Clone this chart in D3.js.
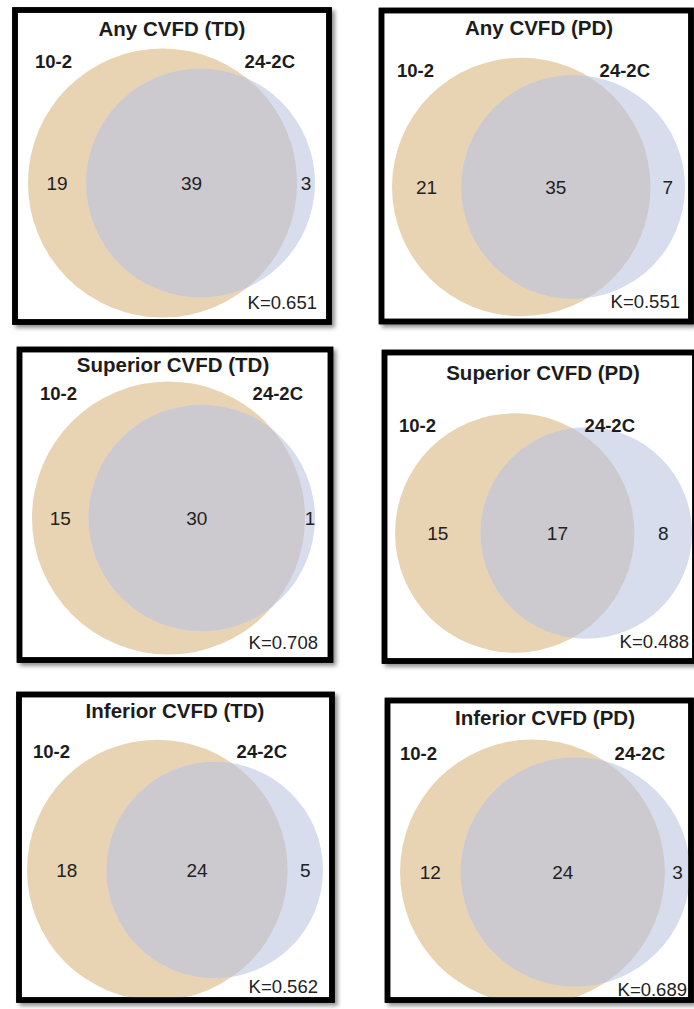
<!DOCTYPE html>
<html>
<head>
<meta charset="utf-8">
<script src="https://cdn.jsdelivr.net/npm/d3@7"></script>
<style>
  body { margin: 0; background: #fff; }
  text { font-family: "Liberation Sans", Arial, Helvetica, sans-serif; }
</style>
</head>
<body>
<div id="chart"></div>
<script>
'use strict';

// data, one entry per panel
const panelTitles = ["Any CVFD (TD)", "Any CVFD (PD)", "Superior CVFD (TD)",
                     "Superior CVFD (PD)", "Inferior CVFD (TD)", "Inferior CVFD (PD)"];
const setNames = ["10-2", "24-2C"];
const only102 = [19, 21, 15, 15, 18, 12];
const both = [39, 35, 30, 17, 24, 24];
const only242C = [3, 7, 1, 8, 5, 3];
const kappa = ["0.651", "0.551", "0.708", "0.488", "0.562", "0.689"];

const colors = {
  'Tan': '#e8d4b3',
  'Blue': '#d7ddec',
  'Overlap': '#ccc9cf',
  'Text': '#1c1c1c'
};

// where each panel sits on the page
const layout = [
  {box: [15, 10, 329, 322],       venn: [28, 315, 183],  title: [172, 36],  lab1: [35, 68],   lab2: [295, 68],  k: [317, 309]},
  {box: [381.5, 10.5, 691, 321.5], venn: [392, 685, 187], title: [539, 35],  lab1: [397, 77],  lab2: [650, 77],  k: [680, 308]},
  {box: [19.5, 349.5, 330.5, 660], venn: [32, 315, 518],  title: [173, 372], lab1: [40, 400],  lab2: [303, 400], k: [318, 649]},
  {box: [384.5, 352.5, 695, 661], venn: [395, 692, 533], title: [543, 380], lab1: [399, 432], lab2: [635, 432], k: [689, 648]},
  {box: [19, 694.5, 332, 1000],   venn: [27, 323, 870],  title: [175, 718], lab1: [33, 758],  lab2: [287, 758], k: [318, 993]},
  {box: [387.5, 700.5, 691, 1000], venn: [400, 690, 872], title: [545, 725], lab1: [400, 760], lab2: [665, 760], k: [687, 996]}
];

function lens(ra, rb, d) {
  if (d >= ra + rb) return 0;
  if (d <= Math.abs(ra - rb)) return Math.PI * Math.min(ra, rb) ** 2;
  const a = ra * ra * Math.acos((d * d + ra * ra - rb * rb) / (2 * d * ra));
  const b = rb * rb * Math.acos((d * d + rb * rb - ra * ra) / (2 * d * rb));
  const c = 0.5 * Math.sqrt((-d + ra + rb) * (d + ra - rb) * (d - ra + rb) * (d + ra + rb));
  return a + b - c;
}

// centre distance so the lens area equals the overlap count
function solveDistance(ra, rb, target) {
  let lo = Math.abs(ra - rb), hi = ra + rb;
  for (let i = 0; i < 60; i++) {
    const mid = (lo + hi) / 2;
    if (lens(ra, rb, mid) > target) lo = mid; else hi = mid;
  }
  return (lo + hi) / 2;
}

const svg = d3.select('#chart').append('svg')
  .attr('width', 694)
  .attr('height', 1009);

const defs = svg.append('defs');
defs.append('filter')
  .attr('id', 'shadow')
  .attr('x', '-10%').attr('y', '-10%').attr('width', '125%').attr('height', '125%')
  .append('feDropShadow')
  .attr('dx', 3).attr('dy', 3).attr('stdDeviation', 2.2)
  .attr('flood-color', '#000').attr('flood-opacity', 0.45);

panelTitles.forEach(function(title, i) {
  const L = layout[i];
  const [x0, y0, x1, y1] = L.box;
  const A = only102[i] + both[i];
  const B = only242C[i] + both[i];
  const ra = Math.sqrt(A / Math.PI);
  const rb = Math.sqrt(B / Math.PI);
  const d = solveDistance(ra, rb, both[i]);

  const x = d3.scaleLinear().domain([-ra, d + rb]).range([L.venn[0], L.venn[1]]);
  const k = (L.venn[1] - L.venn[0]) / (ra + d + rb);
  const r = d3.scaleSqrt().domain([0, 1]).range([0, k / Math.sqrt(Math.PI)]);
  const cy = L.venn[2];

  const g = svg.append('g').attr('class', 'panel');

  // box background with shadow
  g.append('rect')
    .attr('x', x0).attr('y', y0)
    .attr('width', x1 - x0).attr('height', y1 - y0)
    .attr('fill', '#fff')
    .attr('stroke', '#000')
    .attr('stroke-width', 5.5)
    .attr('filter', 'url(#shadow)');

  defs.append('clipPath').attr('id', 'box' + i)
    .append('rect')
    .attr('x', x0 + 2.5).attr('y', y0 + 2.5)
    .attr('width', x1 - x0 - 5).attr('height', y1 - y0 - 5);
  defs.append('clipPath').attr('id', 'tan' + i)
    .append('circle')
    .attr('cx', x(0)).attr('cy', cy).attr('r', r(A));

  const venn = g.append('g').attr('clip-path', 'url(#box' + i + ')');
  venn.append('circle')
    .attr('cx', x(0)).attr('cy', cy).attr('r', r(A))
    .attr('fill', colors['Tan']);
  venn.append('circle')
    .attr('cx', x(d)).attr('cy', cy).attr('r', r(B))
    .attr('fill', colors['Blue']);
  venn.append('circle')
    .attr('cx', x(d)).attr('cy', cy).attr('r', r(B))
    .attr('fill', colors['Overlap'])
    .attr('clip-path', 'url(#tan' + i + ')');

  // border drawn again over the circles
  g.append('rect')
    .attr('x', x0).attr('y', y0)
    .attr('width', x1 - x0).attr('height', y1 - y0)
    .attr('fill', 'none')
    .attr('stroke', '#000')
    .attr('stroke-width', 5.5);

  g.append('text')
    .attr('x', L.title[0]).attr('y', L.title[1])
    .attr('text-anchor', 'middle')
    .attr('font-size', 20.5).attr('font-weight', 'bold')
    .attr('fill', colors['Text'])
    .text(title);

  g.append('text')
    .attr('x', L.lab1[0]).attr('y', L.lab1[1])
    .attr('font-size', 18.5).attr('font-weight', 'bold')
    .attr('fill', colors['Text'])
    .text(setNames[0]);
  g.append('text')
    .attr('x', L.lab2[0]).attr('y', L.lab2[1])
    .attr('text-anchor', 'end')
    .attr('font-size', 18.5).attr('font-weight', 'bold')
    .attr('fill', colors['Text'])
    .text(setNames[1]);

  // counts centred in each region along the centre line
  const regions = [
    {v: only102[i], cx: (x(-ra) + x(d - rb)) / 2},
    {v: both[i], cx: (x(d - rb) + x(ra)) / 2},
    {v: only242C[i], cx: (x(ra) + x(d + rb)) / 2}
  ];
  g.selectAll('.count')
    .data(regions)
    .enter()
    .append('text')
    .attr('class', 'count')
    .attr('x', (e) => e.cx)
    .attr('y', cy + 7)
    .attr('text-anchor', 'middle')
    .attr('font-size', 19)
    .attr('fill', '#222')
    .text((e) => e.v);

  g.append('text')
    .attr('x', L.k[0]).attr('y', L.k[1])
    .attr('text-anchor', 'end')
    .attr('font-size', 18.5)
    .attr('fill', '#222')
    .text('K=' + kappa[i]);
});
</script>
</body>
</html>
